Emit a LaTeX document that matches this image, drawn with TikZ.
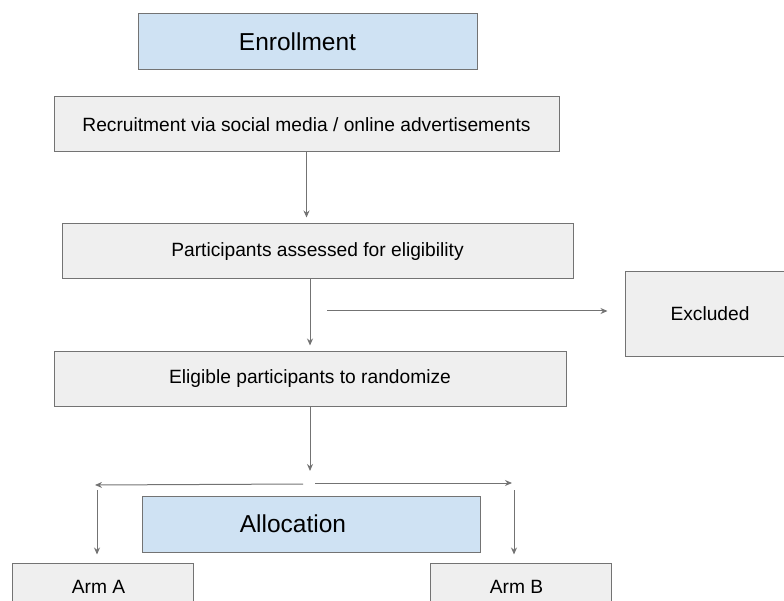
\documentclass[tikz,border=0pt]{standalone}
\usepackage{fontspec}
\setmainfont{Liberation Sans}
\usetikzlibrary{arrows.meta}
\usetikzlibrary{positioning}
\definecolor{boxgray}{HTML}{EFEFEF}
\definecolor{headblue}{HTML}{CFE2F3}
\definecolor{edgegray}{HTML}{737373}
\tikzstyle{stepnode} = [draw=edgegray, fill=boxgray, line width=1pt, minimum height=55pt, inner sep=0pt, font=\fontsize{19.2}{22}\selectfont]
\tikzstyle{headnode} = [draw=edgegray, fill=headblue, line width=1pt, minimum width=339pt, minimum height=56pt, inner sep=0pt, font=\fontsize{24.5}{28}\selectfont]
\tikzstyle{flow} = [draw=edgegray, line width=1pt, -{Stealth[length=7pt,width=6pt]}]

\begin{document}
\begin{tikzpicture}[x=1pt, y=-1pt]
  \useasboundingbox (0,0) rectangle (784,601);
  \clip (0,0) rectangle (784,601);

  \node[headnode] (enroll) at (307.5,42) {\hspace*{-20pt}Enrollment};
  \node[stepnode, minimum width=505pt] (recruit) at (306.5,124.5) {Recruitment via social media / online advertisements};
  \node[stepnode, minimum width=511pt] (assess) at (317.5,251.5) {Participants assessed for eligibility};
  \node[stepnode, minimum width=170pt, minimum height=84pt] (excl) at (710,314) {Excluded};
  \node[stepnode, minimum width=512pt, minimum height=54pt] (elig) at (310,379) {Eligible participants to randomize};
  \node[headnode, minimum width=338pt] (alloc) at (311,524) {\hspace*{-36pt}Allocation};
  \node[stepnode, minimum width=181pt, minimum height=48pt] (armA) at (102.5,587) {\hspace*{-8pt}Arm A};
  \node[stepnode, minimum width=181pt, minimum height=48pt] (armB) at (520.5,587) {\hspace*{-8pt}Arm B};

  % split points of the flow
  \coordinate (exclstart) at (327,311);
  \coordinate (split) at (310,483);
  \coordinate (splitL) at (303,484);
  \coordinate (cornerL) at (95,485);
  \coordinate (splitR) at (315,483);
  \coordinate (cornerR) at (512,483);
  \coordinate (dropA) at (97,490);
  \coordinate (dropB) at (514,490);

  \draw[flow, shorten >=6pt] (recruit.south) -- (recruit.south |- assess.north);
  \draw[flow, shorten >=6pt] (assess.south -| elig.north) -- (elig.north);
  \draw[flow, shorten >=17pt] (exclstart) -- (excl.west |- exclstart);
  \draw[flow, shorten >=12pt] (elig.south) -- (split);
  \draw[flow] (splitL) -- (cornerL);
  \draw[flow] (splitR) -- (cornerR);
  \draw[flow, shorten >=8pt] (dropA) -- (dropA |- armA.north);
  \draw[flow, shorten >=8pt] (dropB) -- (dropB |- armB.north);
\end{tikzpicture}
\end{document}
